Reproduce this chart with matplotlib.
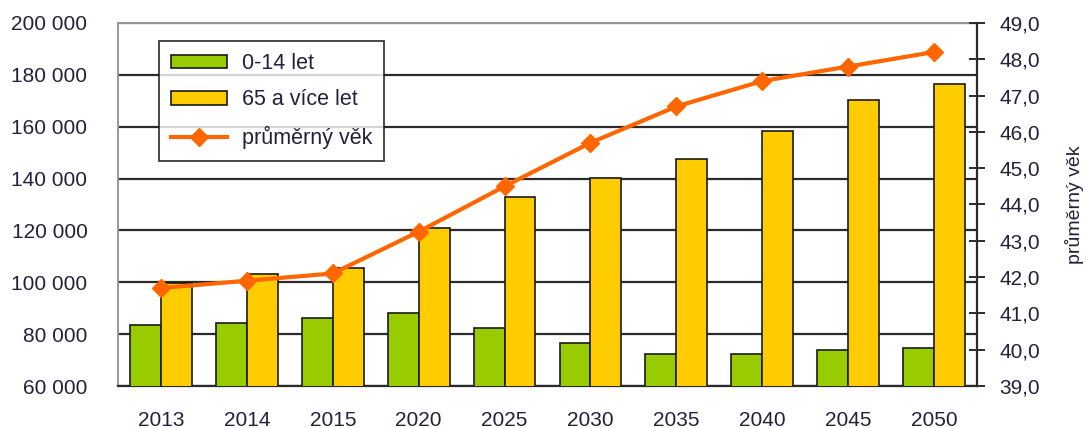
import numpy as np
import matplotlib.pyplot as plt
from matplotlib.ticker import FuncFormatter

plt.rcParams['font.family'] = ['Liberation Sans', 'DejaVu Sans']

# Data
roky = ['2013', '2014', '2015', '2020', '2025', '2030', '2035', '2040', '2045', '2050']
deti = [83500, 84200, 86100, 88000, 82500, 76400, 72400, 72400, 73900, 74700]
seniori = [99700, 103200, 105400, 121000, 132700, 140400, 147400, 158300, 170200, 176300]
prumerny_vek = [41.7, 41.9, 42.1, 43.25, 44.5, 45.7, 46.7, 47.4, 47.8, 48.2]

text_col = '#22223a'
fs = 15
x = np.arange(len(roky))
w = 0.36

fig = plt.figure(figsize=(10.86, 4.28), dpi=100)
ax = fig.add_axes([0.1087, 0.0981, 0.7909, 0.8482])

ax.bar(x - w / 2, deti, w, color='#99cc00', edgecolor='#1a1a1a', linewidth=1.2, label='0-14 let', zorder=3)
ax.bar(x + w / 2, seniori, w, color='#ffcc00', edgecolor='#1a1a1a', linewidth=1.2, label='65 a více let', zorder=3)

ax.set_ylim(60000, 200000)
ax.set_yticks(range(60000, 200001, 20000))
ax.yaxis.set_major_formatter(FuncFormatter(lambda v, p: f'{int(v):,}'.replace(',', ' ')))
ax.set_xlim(-0.5, len(roky) - 0.5)
ax.set_xticks(x)
ax.set_xticklabels(roky)
ax.tick_params(axis='x', length=0, pad=18, labelsize=fs, labelcolor=text_col)
ax.tick_params(axis='y', length=0, pad=22, labelsize=fs, labelcolor=text_col)
ax.grid(axis='y', color='#2b2b2b', linewidth=1.6, zorder=0)
ax.set_axisbelow(True)
for s in ['left', 'top']:
    ax.spines[s].set_color('#999999')
    ax.spines[s].set_linewidth(1.4)
ax.spines['bottom'].set_color('#2b2b2b')
ax.spines['bottom'].set_linewidth(1.6)
ax.spines['right'].set_visible(False)

ax2 = ax.twinx()
ax2.plot(x, prumerny_vek, color='#ff6600', linewidth=3, marker='D', markersize=9,
         label='průměrný věk', zorder=5)
ax2.set_ylim(39, 49)
ax2.set_yticks(range(39, 50))
ax2.yaxis.set_major_formatter(FuncFormatter(lambda v, p: f'{v:.1f}'.replace('.', ',')))
ax2.tick_params(axis='y', direction='inout', length=12, width=1.4, color='#2b2b2b',
                pad=10, labelsize=fs, labelcolor=text_col)
ax2.spines['right'].set_color('#2b2b2b')
ax2.spines['right'].set_linewidth(1.6)
for s in ['left', 'top', 'bottom']:
    ax2.spines[s].set_visible(False)
ax2.set_ylabel('průměrný věk', fontsize=14, color=text_col, labelpad=18)

h1, l1 = ax.get_legend_handles_labels()
h2, l2 = ax2.get_legend_handles_labels()
leg = ax2.legend(h1 + h2, l1 + l2, loc='upper left', bbox_to_anchor=(0.048, 0.95),
                 fontsize=15.5, frameon=True, fancybox=False, edgecolor='#1a1a1a',
                 handlelength=2.6, handleheight=0.6, labelspacing=0.72,
                 borderpad=0.55, handletextpad=0.7, borderaxespad=0)
leg.get_frame().set_linewidth(1.4)
for t in leg.get_texts():
    t.set_color(text_col)

fig.savefig('out.png', dpi=100)
